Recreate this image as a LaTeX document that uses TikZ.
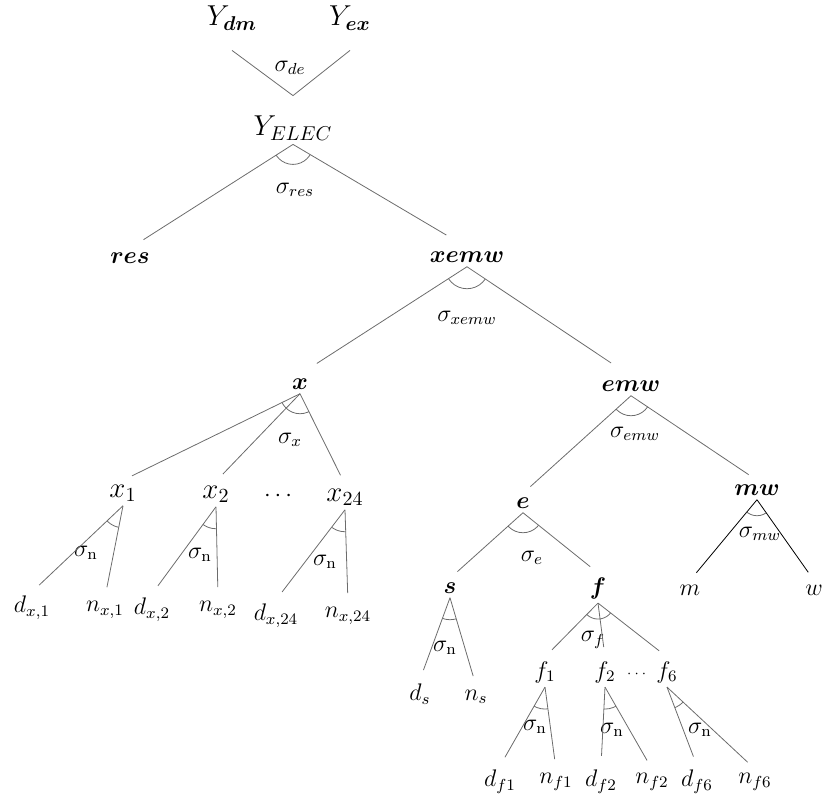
\documentclass[tikz,border=0pt]{standalone}
\usepackage{amssymb}
\usepackage{amsmath}
\usepackage{tikz}

% arco del angulo de sustitucion: nodo padre, hijo izquierdo, hijo derecho, radio
\newcommand{\angarc}[4]{%
  \begin{scope}
    \clip (#1.south) -- (#2.north) -- (#3.north) -- cycle;
    \draw[ang] (#1.south) circle (#4);
  \end{scope}}

\begin{document}
\begin{tikzpicture}[x=0.5pt,y=0.5pt,
  lab/.style={inner sep=2pt, font=\large},
  sig/.style={inner sep=0pt, font=\large},
  br/.style={draw=gray!85!black, shorten >=5pt},
  ang/.style={draw=gray!85!black}]
\useasboundingbox (0,0) rectangle (826,-794);

% Rotulos de la parte superior
\node[lab,font=\Large] (ydm) at (232,-18) {$Y_{\boldsymbol{dm}}$};
\node[lab,font=\Large] (yex) at (350,-18) {$Y_{\boldsymbol{ex}}$};
\node[lab,font=\Large] (yelec) at (293,-128) {$Y_{ELEC}$};
\node[lab] (res) at (130,-258) {$\boldsymbol{res}$};
\node[lab] (xemw) at (467,-257) {$\boldsymbol{xemw}$};

% Rama x
\node[lab] (x) at (300,-384) {$\boldsymbol{x}$};
\node[lab,font=\Large] (x1) at (123,-493) {$x_1$};
\node[lab,font=\Large] (x2) at (216,-494) {$x_2$};
\node[lab] (xdots) at (280,-496) {$\cdots$};
\node[lab,font=\Large] (x24) at (345,-497) {$x_{24}$};
\node[lab] (dx1) at (32,-608) {$d_{x,1}$};
\node[lab] (nx1) at (105,-610) {$n_{x,1}$};
\node[lab] (dx2) at (152,-610) {$d_{x,2}$};
\node[lab] (nx2) at (218,-610) {$n_{x,2}$};
\node[lab] (dx24) at (276,-616) {$d_{x,24}$};
\node[lab] (nx24) at (348,-616) {$n_{x,24}$};

% Rama emw
\node[lab] (emw) at (631,-386) {$\boldsymbol{emw}$};
\node[lab] (e) at (523,-503) {$\boldsymbol{e}$};
\node[lab] (mw) at (757,-490) {$\boldsymbol{mw}$};
\node[lab] (s) at (450,-588) {$\boldsymbol{s}$};
\node[lab] (f) at (598,-588) {$\boldsymbol{f}$};
\node[lab] (m) at (690,-590) {$m$};
\node[lab] (w) at (814,-590) {$w$};
\node[lab] (ds) at (420,-694) {$d_s$};
\node[lab] (ns) at (476,-697) {$n_s$};
\node[lab] (f1) at (545,-672) {$f_1$};
\node[lab] (f2) at (605,-672) {$f_2$};
\node[lab,font=\scriptsize] (fdots) at (638,-674) {$\cdots$};
\node[lab] (f6) at (667,-672) {$f_6$};
\node[lab] (df1) at (500,-782) {$d_{f1}$};
\node[lab] (nf1) at (556,-782) {$n_{f1}$};
\node[lab] (df2) at (601,-782) {$d_{f2}$};
\node[lab] (nf2) at (652,-782) {$n_{f2}$};
\node[lab] (df6) at (697,-782) {$d_{f6}$};
\node[lab] (nf6) at (755,-782) {$n_{f6}$};

% Elasticidades
\node[sig] (sde) at (290,-68) {$\sigma_{de}$};
\node[sig] (sres) at (295,-190) {$\sigma_{res}$};
\node[sig] (sxemw) at (467,-318) {$\sigma_{xemw}$};
\node[sig] (sx) at (290,-440) {$\sigma_{x}$};
\node[sig] (semw) at (635,-434) {$\sigma_{emw}$};
\node[sig] (se) at (532,-558) {$\sigma_{e}$};
\node[sig] (smw) at (760,-534) {$\sigma_{mw}$};
\node[sig] (sf) at (593,-640) {$\sigma_{f}$};
\node[sig] (sn1) at (86,-553) {$\sigma_{\mathrm{n}}$};
\node[sig] (sn2) at (200,-555) {$\sigma_{\mathrm{n}}$};
\node[sig] (sn3) at (325,-562) {$\sigma_{\mathrm{n}}$};
\node[sig] (sn4) at (445,-648) {$\sigma_{\mathrm{n}}$};
\node[sig] (sn5) at (535,-727) {$\sigma_{\mathrm{n}}$};
\node[sig] (sn6) at (612,-730) {$\sigma_{\mathrm{n}}$};
\node[sig] (sn7) at (700,-730) {$\sigma_{\mathrm{n}}$};

% Ramas
\draw[br, shorten >=0pt] ([yshift=-8pt]ydm.south) -- ([yshift=8pt]yelec.north) -- ([yshift=-8pt]yex.south);
\draw[br, shorten >=8pt] (yelec.south) -- (res.north);
\draw[br, shorten >=12pt] (yelec.south) -- (xemw.north);
\draw[br, shorten >=10pt] (xemw.south) -- (x.north);
\draw[br, shorten >=12pt] (xemw.south) -- (emw.north);
\draw[br] (x.south) -- (x1.north);
\draw[br] (x.south) -- (x2.north);
\draw[br] (x.south) -- (x24.north);
\draw[br] (x1.south) -- (dx1.north);
\draw[br] (x1.south) -- (nx1.north);
\draw[br] (x2.south) -- (dx2.north);
\draw[br] (x2.south) -- (nx2.north);
\draw[br] (x24.south) -- (dx24.north);
\draw[br] (x24.south) -- (nx24.north);
\draw[br] (emw.south) -- (e.north);
\draw[br] (emw.south) -- (mw.north);
\draw[br] (e.south) -- (s.north);
\draw[br] (e.south) -- (f.north);
\draw[br, draw=black] (mw.south) -- (m.north);
\draw[br, draw=black] (mw.south) -- (w.north);
\draw[br] (s.south) -- (ds.north);
\draw[br] (s.south) -- (ns.north);
\draw[br] (f.south) -- (f1.north);
\draw[br] (f.south) -- (f2.north);
\draw[br] (f.south) -- (f6.north);
\draw[br] (f1.south) -- (df1.north);
\draw[br] (f1.south) -- (nf1.north);
\draw[br] (f2.south) -- (df2.north);
\draw[br] (f2.south) -- (nf2.north);
\draw[br] (f6.south) -- (df6.north);
\draw[br] (f6.south) -- (nf6.north);

% Arcos
\angarc{yelec}{res}{xemw}{10pt}
\angarc{xemw}{x}{emw}{11pt}
\angarc{x}{x1}{x24}{10pt}
\angarc{emw}{e}{mw}{10pt}
\angarc{e}{s}{f}{10pt}
\angarc{mw}{m}{w}{8pt}
\angarc{f}{f1}{f6}{8pt}
\angarc{x1}{dx1}{nx1}{11pt}
\angarc{x2}{dx2}{nx2}{11pt}
\angarc{x24}{dx24}{nx24}{11pt}
\angarc{s}{ds}{ns}{11pt}
\angarc{f1}{df1}{nf1}{11pt}
\angarc{f2}{df2}{nf2}{11pt}
\angarc{f6}{df6}{nf6}{11pt}
\end{tikzpicture}
\end{document}
